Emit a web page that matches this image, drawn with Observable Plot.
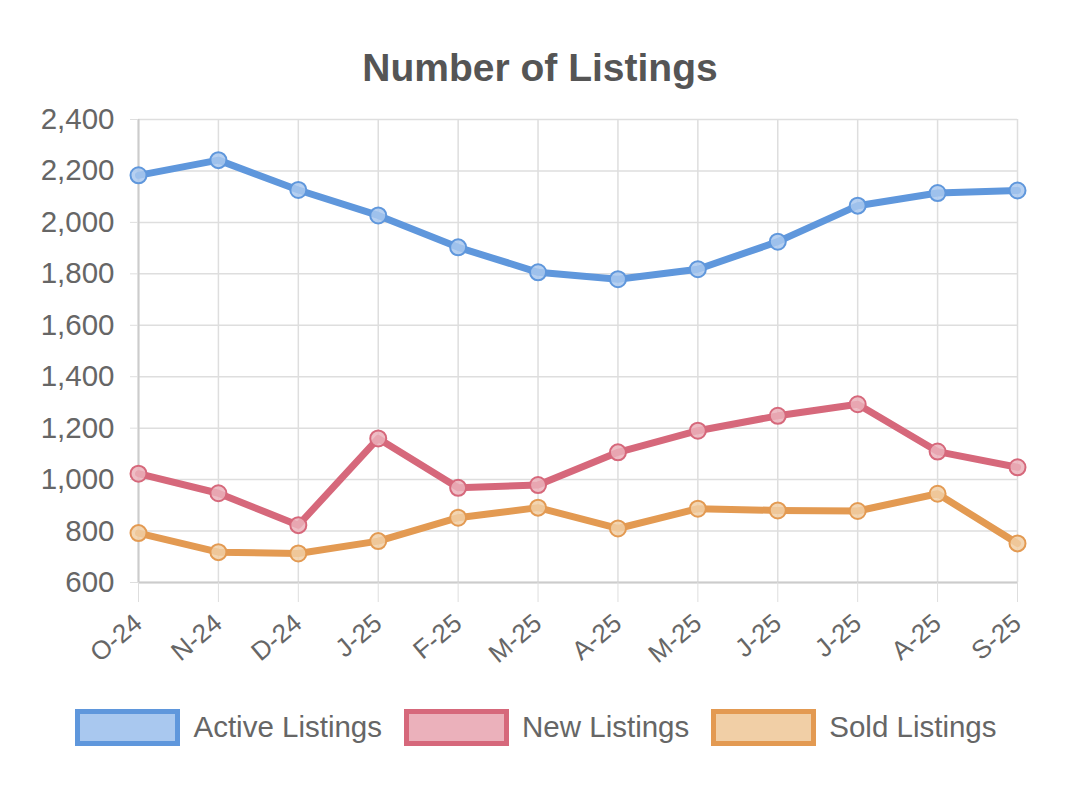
<!DOCTYPE html>
<html>
<head>
<meta charset="utf-8">
<script src="https://cdn.jsdelivr.net/npm/d3@7"></script>
<script src="https://cdn.jsdelivr.net/npm/@observablehq/plot@0.6"></script>
<style>
  html, body { margin: 0; padding: 0; background: #fff; }
  body { width: 1080px; height: 790px; position: relative; overflow: hidden; font-family: "Liberation Sans", Arial, Helvetica, sans-serif; }
  #title { position: absolute; left: 0; top: 0; width: 1080px; height: 100px; text-align: center; font-weight: bold; font-size: 39px; color: #555; line-height: 136px; }
  #chart { position: absolute; left: 0; top: 100px; }
  #legend { position: absolute; left: -4px; top: 690px; width: 1080px; height: 74px; display: flex; justify-content: center; align-items: center; gap: 0; }
  .item { display: flex; align-items: center; margin: 0 11px; }
  .box { width: 95px; height: 27px; border-width: 5px; border-style: solid; margin-right: 13px; }
  .lab { font-size: 29.5px; color: #666; }
</style>
</head>
<body>
<div id="title">Number of Listings</div>
<div id="chart"></div>
<div id="legend"></div>
<script>
const labels = ["O-24","N-24","D-24","J-25","F-25","M-25","A-25","M-25","J-25","J-25","A-25","S-25"];
const activeListings = [2183,2242,2126,2027,1903,1806,1779,1818,1925,2065,2114,2124];
const newListings = [1023,947,823,1160,968,979,1106,1190,1248,1293,1109,1048];
const soldListings = [792,718,713,761,852,891,810,887,880,878,945,752];
const yTicks = [600,800,1000,1200,1400,1600,1800,2000,2200,2400];
const seriesNames = ["Active Listings","New Listings","Sold Listings"];
const strokeColors = ["#5f97dc","#d6687b","#e39a52"];
const fillColors = ["#a9c8ef","#ebb1bb","#f1cfa6"];

const seriesValues = [activeListings, newListings, soldListings];
const rows = [];
seriesValues.forEach((vals, s) => vals.forEach((v, i) => rows.push({series: seriesNames[s], i, v})));

const idx = d3.range(labels.length);
const font = "'Liberation Sans', Arial, Helvetica, sans-serif";

const marks = [
  Plot.gridY(yTicks, {stroke: "#dedede", strokeOpacity: 1, strokeWidth: 1.5}),
  Plot.gridX(idx, {stroke: "#dedede", strokeOpacity: 1, strokeWidth: 1.5}),
  Plot.ruleY([600], {stroke: "#cccccc", strokeWidth: 2}),
  Plot.ruleX([0], {stroke: "#cccccc", strokeWidth: 2}),
  Plot.axisY({ticks: yTicks, tickSize: 8, tickPadding: 16, tickFormat: d3.format(","), stroke: "#dedede", fill: "#666", fontSize: 29.5, label: null}),
  Plot.axisX({ticks: idx, tickSize: 20, tickPadding: 17, tickRotate: -40, tickFormat: i => labels[i], stroke: "#dedede", fill: "#666", fontSize: 26, label: null})
];
seriesNames.forEach((name, s) => {
  const data = rows.filter(r => r.series === name);
  marks.push(Plot.line(data, {x: "i", y: "v", stroke: strokeColors[s], strokeWidth: 7, curve: "linear"}));
});
seriesNames.forEach((name, s) => {
  const data = rows.filter(r => r.series === name);
  marks.push(Plot.dot(data, {x: "i", y: "v", r: 8, fill: fillColors[s], fillOpacity: 0.85, stroke: strokeColors[s], strokeWidth: 2}));
});

const chart = Plot.plot({
  width: 1080,
  height: 590,
  marginTop: 19,
  marginBottom: 108,
  marginLeft: 138,
  marginRight: 63,
  style: {fontFamily: font, background: "#fff", overflow: "visible"},
  x: {type: "point", domain: idx, padding: 0, round: false, axis: null},
  y: {domain: [600, 2400], axis: null},
  marks
});
document.getElementById("chart").appendChild(chart);

const legend = document.getElementById("legend");
seriesNames.forEach((name, s) => {
  const item = document.createElement("div");
  item.className = "item";
  const box = document.createElement("div");
  box.className = "box";
  box.style.borderColor = strokeColors[s];
  box.style.background = fillColors[s];
  const lab = document.createElement("span");
  lab.className = "lab";
  lab.textContent = name;
  item.appendChild(box);
  item.appendChild(lab);
  legend.appendChild(item);
});
</script>
</body>
</html>
